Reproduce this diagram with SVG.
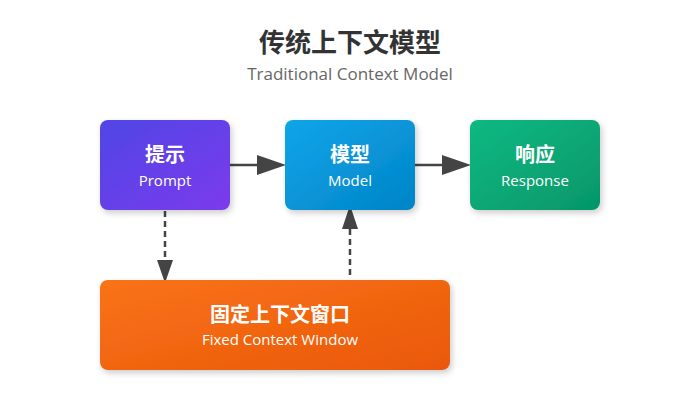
<svg xmlns="http://www.w3.org/2000/svg" width="700" height="400" viewBox="0 0 700 400">
<defs>
<linearGradient id="gP" x1="0" y1="0" x2="1" y2="1"><stop offset="0" stop-color="#4f46e5"/><stop offset="1" stop-color="#7c3aed"/></linearGradient>
<linearGradient id="gM" x1="0" y1="0" x2="1" y2="1"><stop offset="0" stop-color="#0ea5e9"/><stop offset="1" stop-color="#0284c7"/></linearGradient>
<linearGradient id="gR" x1="0" y1="0" x2="1" y2="1"><stop offset="0" stop-color="#10b981"/><stop offset="1" stop-color="#059669"/></linearGradient>
<linearGradient id="gW" x1="0" y1="0" x2="1" y2="1"><stop offset="0" stop-color="#f97316"/><stop offset="1" stop-color="#ea580c"/></linearGradient>
<filter id="sh" x="-20%" y="-20%" width="140%" height="150%"><feDropShadow dx="2" dy="3" stdDeviation="3" flood-color="#000" flood-opacity="0.2"/></filter>
</defs>
<style>
.box{filter:url(#sh)}
.zh{font-family:"Noto Sans CJK SC","Noto Sans",sans-serif;font-weight:bold;font-size:20px;fill:#fff;text-anchor:middle}
.en{font-family:"Open Sans","Noto Sans",sans-serif;font-size:15px;fill:#fff;text-anchor:middle}
.ln{stroke:#444;stroke-width:2.5;fill:none}
.ds{stroke-dasharray:6,4}
.hd{fill:#444}
</style>
<rect width="700" height="400" fill="#fff"/>
<text x="350" y="52" font-family="'Noto Sans CJK SC','Noto Sans',sans-serif" font-weight="bold" font-size="26" fill="#333" text-anchor="middle">传统上下文模型</text>
<text x="350" y="80" font-family="'Open Sans','Noto Sans',sans-serif" font-size="17" fill="#666" text-anchor="middle">Traditional Context Model</text>
<g id="connectors">
<line class="ln" x1="230" y1="165" x2="260" y2="165"/><polygon class="hd" points="257,155 286,165 257,175"/>
<line class="ln" x1="415" y1="165" x2="445" y2="165"/><polygon class="hd" points="442,155 471,165 442,175"/>
<line class="ln ds" x1="165" y1="211" x2="165" y2="262"/><polygon class="hd" points="157,260 165,283 173,260"/>
<line class="ln ds" x1="350" y1="275" x2="350" y2="228"/><polygon class="hd" points="342,229 350,205 358,229"/>
</g>
<g id="prompt"><rect class="box" x="100" y="120" width="130" height="90" rx="8" fill="url(#gP)"/><text class="zh" x="165" y="162">提示</text><text class="en" x="165" y="186">Prompt</text></g>
<g id="model"><rect class="box" x="285" y="120" width="130" height="90" rx="8" fill="url(#gM)"/><text class="zh" x="350" y="162">模型</text><text class="en" x="350" y="186">Model</text></g>
<g id="response"><rect class="box" x="470" y="120" width="130" height="90" rx="8" fill="url(#gR)"/><text class="zh" x="535" y="162">响应</text><text class="en" x="535" y="186">Response</text></g>
<g id="window"><rect class="box" x="100" y="280" width="350" height="90" rx="8" fill="url(#gW)"/><text class="zh" x="280" y="322">固定上下文窗口</text><text class="en" x="280" y="345">Fixed Context Window</text></g>
</svg>
